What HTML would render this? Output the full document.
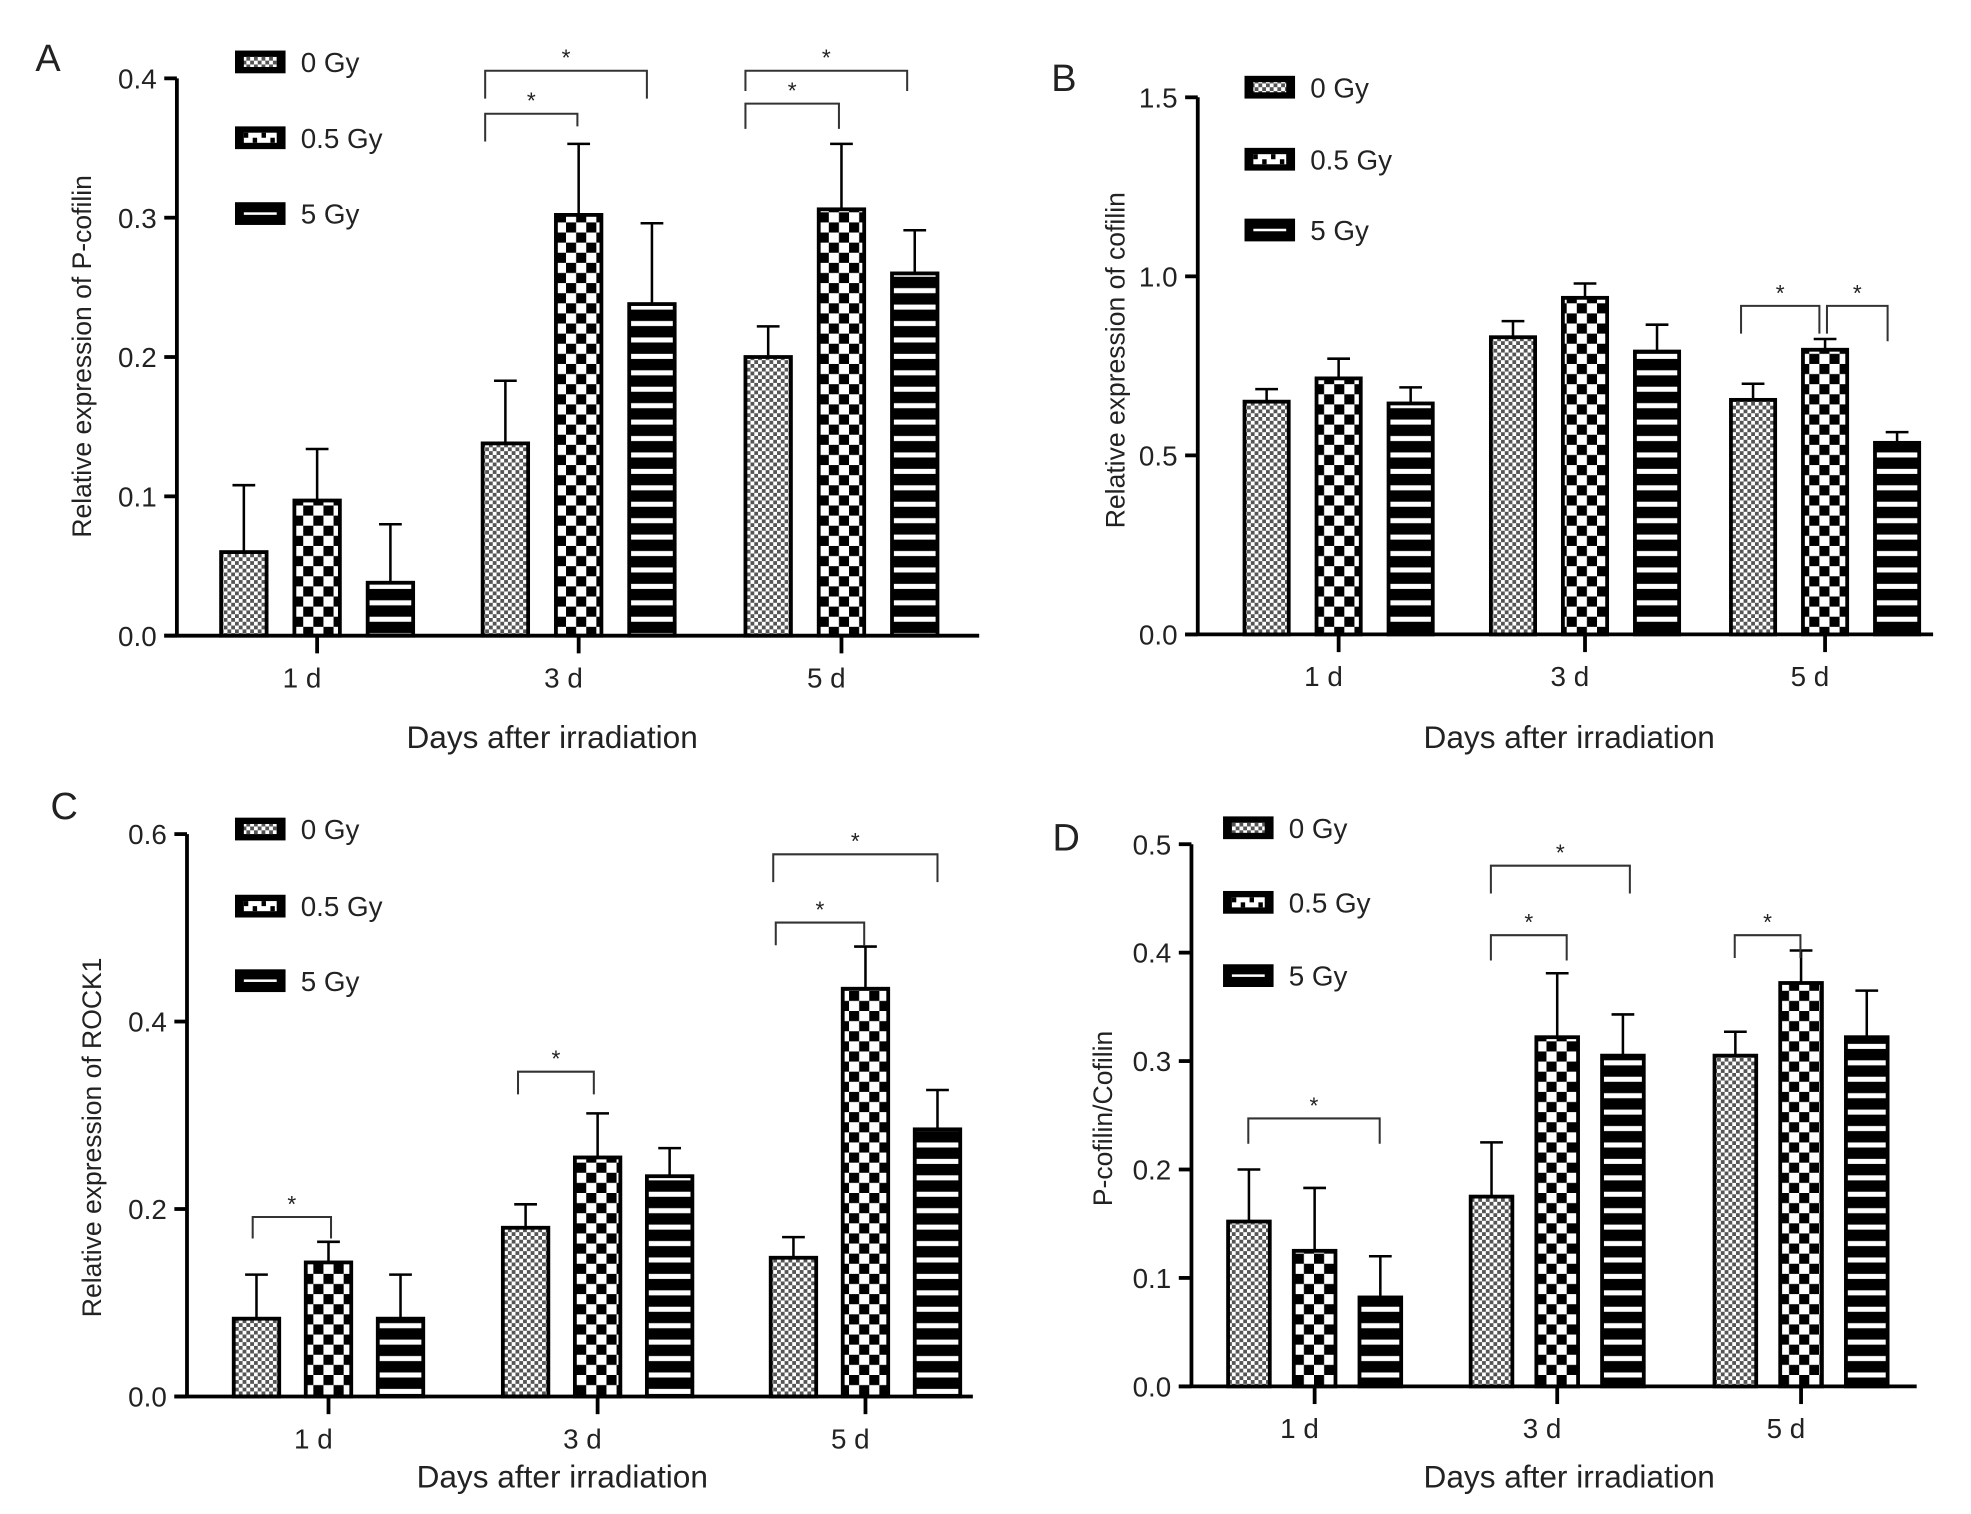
<!DOCTYPE html>
<html><head><meta charset="utf-8"><style>
html,body{margin:0;padding:0;background:#fff}
svg{display:block;font-family:"Liberation Sans",sans-serif}
</style></head><body>
<svg id="fig" width="1971" height="1514" viewBox="0 0 1560 1198" preserveAspectRatio="none" xmlns="http://www.w3.org/2000/svg">
<defs>
<pattern id="pFine" width="6" height="6" patternUnits="userSpaceOnUse"><rect width="6" height="6" fill="#fff"/><rect width="3" height="3" fill="#555"/><rect x="3" y="3" width="3" height="3" fill="#555"/></pattern>
<pattern id="pCheck" width="16" height="16" patternUnits="userSpaceOnUse"><rect width="16" height="16" fill="#fff"/><rect width="8" height="8" fill="#000"/><rect x="8" y="8" width="8" height="8" fill="#000"/></pattern>
<pattern id="pStripe" width="40" height="13" patternUnits="userSpaceOnUse" y="2"><rect width="40" height="13" fill="#000"/><rect x="0" y="5" width="40" height="4" fill="#fff"/></pattern>
</defs>
</svg>
<script>
const NS='http://www.w3.org/2000/svg';
const svg=document.getElementById('fig');
const groups=['1 d','3 d','5 d'];
const seriesNames=['0 Gy','0.5 Gy','5 Gy'];
// Panel A
const aMean0=[0.06,0.138,0.2], aMean1=[0.097,0.302,0.306], aMean2=[0.038,0.238,0.26];
const aErr0=[0.048,0.045,0.022], aErr1=[0.037,0.051,0.047], aErr2=[0.042,0.058,0.031];
const aTicks=[0,0.1,0.2,0.3,0.4], aTickLabels=['0.0','0.1','0.2','0.3','0.4'];
// Panel B
const bMean0=[0.65,0.83,0.655], bMean1=[0.715,0.94,0.795], bMean2=[0.645,0.79,0.535];
const bErr0=[0.035,0.045,0.045], bErr1=[0.055,0.04,0.03], bErr2=[0.045,0.075,0.03];
const bTicks=[0,0.5,1.0,1.5], bTickLabels=['0.0','0.5','1.0','1.5'];
// Panel C
const cMean0=[0.083,0.18,0.148], cMean1=[0.143,0.255,0.435], cMean2=[0.083,0.235,0.285];
const cErr0=[0.047,0.025,0.022], cErr1=[0.022,0.047,0.045], cErr2=[0.047,0.03,0.042];
const cTicks=[0,0.2,0.4,0.6], cTickLabels=['0.0','0.2','0.4','0.6'];
// Panel D
const dMean0=[0.152,0.175,0.305], dMean1=[0.125,0.322,0.372], dMean2=[0.082,0.305,0.322];
const dErr0=[0.048,0.05,0.022], dErr1=[0.058,0.059,0.03], dErr2=[0.038,0.038,0.043];
const dTicks=[0,0.1,0.2,0.3,0.4,0.5], dTickLabels=['0.0','0.1','0.2','0.3','0.4','0.5'];

const fills=['url(#pFine)','url(#pCheck)','url(#pStripe)'];
function mk(tag,attrs,parent){const e=document.createElementNS(NS,tag);for(const k in attrs)e.setAttribute(k,attrs[k]);(parent||svg).appendChild(e);return e;}
function txt(s,x,y,size,anchor,parent,rot){const t=mk('text',{x:x,y:y,'font-size':size,'text-anchor':anchor||'middle',fill:'#222'},parent);if(rot)t.setAttribute('transform','rotate(-90 '+x+' '+y+')');t.textContent=s;return t;}

function panel(cfg){
 const g=mk('g',{});
 
 
 const yS=v=>cfg.y0-(v/cfg.ymax)*(cfg.y0-cfg.ytop);
 const L=txt(cfg.letter,cfg.lx,cfg.ly,30,'start',g);
 
 const means=cfg.means, errs=cfg.errs;
 for(let s=0;s<3;s++){for(let i=0;i<3;i++){
  const x=cfg.barX[i]+s*cfg.step, w=cfg.bw, v=means[s][i], top=yS(v), etop=yS(v+errs[s][i]);
  const r=mk('rect',{x:x,y:top,width:w,height:cfg.y0-top,fill:fills[s],stroke:'#000','stroke-width':3},g);
  
  
  const cx=x+w/2;
  const e=mk('path',{d:'M'+cx+' '+top+'V'+etop+'M'+(cx-9)+' '+etop+'H'+(cx+9),stroke:'#000','stroke-width':2,fill:'none'},g);
  
 }}
 const ax=mk('path',{d:'M'+cfg.ax+' '+cfg.ytop+'V'+cfg.y0+'M'+(cfg.ax-10)+' '+cfg.y0+'H'+cfg.xend,stroke:'#000','stroke-width':3,fill:'none'},g);
 
 cfg.ticks.forEach((t,k)=>{const y=yS(t);
  mk('line',{x1:cfg.ax-10,x2:cfg.ax,y1:y,y2:y,stroke:'#000','stroke-width':3},g);
  const tl=txt(cfg.tickLabels[k],cfg.ax-16,y+8,22,'end',g);
  });
 for(let i=0;i<3;i++){const cx=cfg.barX[i]+cfg.step+cfg.bw/2;
  mk('line',{x1:cx,x2:cx,y1:cfg.y0,y2:cfg.y0+14,stroke:'#000','stroke-width':3},g);
  const tl=txt(groups[i],cx-12,cfg.y0+41,22,'middle',g);
  }
 const xt=txt('Days after irradiation',cfg.xtx,cfg.xty,25,'middle',g);
 
 const yt=txt(cfg.ylabel,cfg.ytx,cfg.yty,21,'middle',g,true);
 
 for(let s=0;s<3;s++){const y=cfg.legY[s];
  const lg=mk('g',{},g);
  mk('rect',{x:cfg.legX,y:y,width:40,height:18,fill:'#000'},lg);
  if(s===0)mk('rect',{x:cfg.legX+7,y:y+5,width:26,height:8,fill:'url(#pFine)'},lg);
  if(s===1){mk('rect',{x:cfg.legX+7,y:y+5,width:26,height:8,fill:'#fff'},lg);for(let k=0;k<4;k++)mk('rect',{x:cfg.legX+7+k*7,y:y+5+(k%2)*4,width:3.5,height:4,fill:'#000'},lg);}
  if(s===2)mk('rect',{x:cfg.legX+7,y:y+8,width:26,height:2,fill:'#fff'},lg);
  txt(seriesNames[s],cfg.legX+52,y+17,22,'start',lg);}
 cfg.brackets.forEach(b=>{
  const bg=mk('g',{},g);
  mk('path',{d:'M'+b[0]+' '+b[3]+'V'+b[2]+'H'+b[1]+'V'+b[4],stroke:'#333','stroke-width':1.6,fill:'none'},bg);
  txt('*',(b[0]+b[1])/2,b[2]-4,18,'middle',bg);});
}
panel({name:'panel-a',letter:'A',lx:28,ly:56,ax:140,y0:503,ytop:62,ymax:0.4,xend:775,barX:[175,382,590],step:58,bw:36,
 means:[aMean0,aMean1,aMean2],errs:[aErr0,aErr1,aErr2],ticks:aTicks,tickLabels:aTickLabels,
 xtx:437,xty:592,ytx:72,yty:282,ylabel:'Relative expression of P-cofilin',legX:186,legY:[40,100,160],
 brackets:[[384,512,56,78,78],[384,457,90,112,100],[590,718,56,72,72],[590,664,82,102,102]]});
panel({name:'panel-b',letter:'B',lx:832,ly:72,ax:948,y0:502,ytop:77,ymax:1.5,xend:1530,barX:[985,1180,1370],step:57,bw:35,
 means:[bMean0,bMean1,bMean2],errs:[bErr0,bErr1,bErr2],ticks:bTicks,tickLabels:bTickLabels,
 xtx:1242,xty:592,ytx:890,yty:285,ylabel:'Relative expression of cofilin',legX:985,legY:[60,117,173],
 brackets:[[1378,1440,242,264,264],[1446,1494,242,264,270]]});
panel({name:'panel-c',letter:'C',lx:40,ly:648,ax:148,y0:1105,ytop:660,ymax:0.6,xend:770,barX:[185,398,610],step:57,bw:36,
 means:[cMean0,cMean1,cMean2],errs:[cErr0,cErr1,cErr2],ticks:cTicks,tickLabels:cTickLabels,
 xtx:445,xty:1177,ytx:80,yty:900,ylabel:'Relative expression of ROCK1',legX:186,legY:[647,708,767],
 brackets:[[200,262,963,980,980],[410,470,848,866,866],[614,684,730,748,748],[612,742,676,698,698]]});
panel({name:'panel-d',letter:'D',lx:833,ly:673,ax:943,y0:1097,ytop:668,ymax:0.5,xend:1517,barX:[972,1164,1357],step:52,bw:33,
 means:[dMean0,dMean1,dMean2],errs:[dErr0,dErr1,dErr2],ticks:dTicks,tickLabels:dTickLabels,
 xtx:1242,xty:1177,ytx:880,yty:885,ylabel:'P-cofilin/Cofilin',legX:968,legY:[646,705,763],
 brackets:[[988,1092,885,905,905],[1180,1240,740,760,760],[1180,1290,685,707,707],[1373,1425,740,758,758]]});
</script>
</body></html>
